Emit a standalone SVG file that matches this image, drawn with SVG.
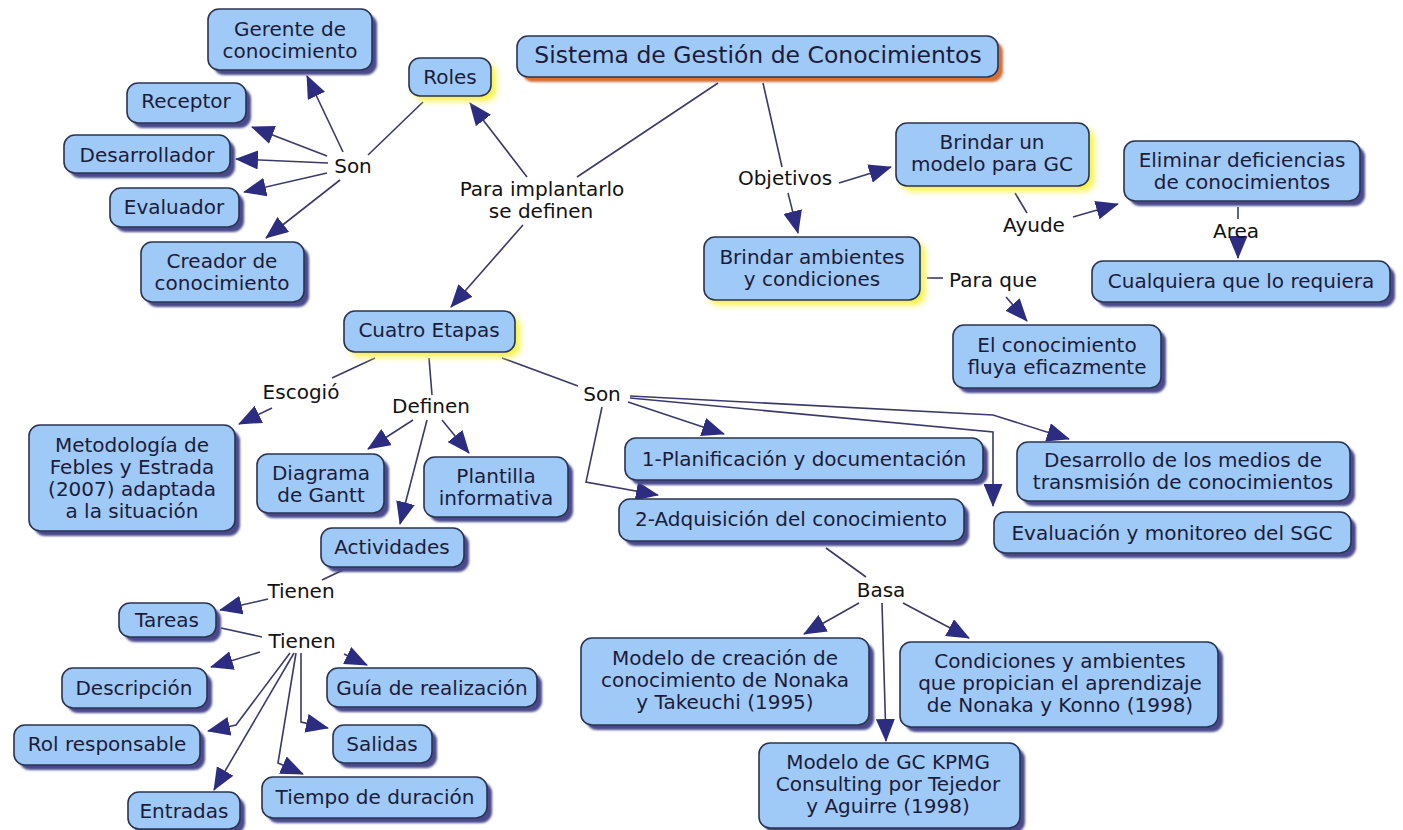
<svg xmlns="http://www.w3.org/2000/svg" width="1403" height="830" viewBox="0 0 1403 830">
  <defs>
    <marker id="arrow" markerUnits="userSpaceOnUse" markerWidth="23" markerHeight="19" refX="22" refY="9.5" orient="auto">
      <path d="M0,0 L23,9.5 L0,19 z" fill="#2c2c80"/>
    </marker>
    <filter id="soft" x="-10%" y="-10%" width="120%" height="130%">
      <feGaussianBlur stdDeviation="0.8"/>
    </filter>
    <filter id="glowBlur" x="-20%" y="-30%" width="140%" height="170%">
      <feGaussianBlur stdDeviation="3"/>
    </filter>
  </defs>
  <style>
    .box { fill: #9fc9f7; stroke: #2a3452; stroke-width: 1.6; }
    .shadow { fill: #48488c; filter: url(#soft); }
    .glow { fill: #f6f23a; filter: url(#glowBlur); }
    .orange { fill: #d2703a; filter: url(#soft); }
    text { font-family: "DejaVu Sans", Verdana, sans-serif; fill: #1c1c3a; text-anchor: middle; }
    .t { font-size: 20px; }
    .title { font-size: 23.5px; }
    .lbl { font-size: 20px; fill: #111; }
    .edge { fill: none; stroke: #3a3a68; stroke-width: 1.6; }
    .arr { marker-end: url(#arrow); }
  </style>
  <rect width="1403" height="830" fill="#ffffff"/>

  <!-- connectors -->
  <g id="connectors">
    <!-- root to phrases -->
    <path class="edge" d="M718,83 L577,177"/>
    <path class="edge arr" d="M527,177 L470,103"/>
    <path class="edge arr" d="M523,225 L451,307"/>
    <path class="edge" d="M763,83 L782,167"/>
    <path class="edge arr" d="M839,183 L891,167"/>
    <path class="edge arr" d="M788,193 L798,233"/>
    <!-- roles -->
    <path class="edge" d="M423,102 L368,155"/>
    <path class="edge arr" d="M343,152 L307,76"/>
    <path class="edge arr" d="M327,156 L252,127"/>
    <path class="edge arr" d="M328,163 L236,159"/>
    <path class="edge arr" d="M327,173 L244,192"/>
    <path class="edge arr" d="M340,180 L266,238"/>
    <!-- objetivos branch -->
    <path class="edge" d="M1015,193 L1027,213"/>
    <path class="edge arr" d="M1073,217 L1118,204"/>
    <path class="edge" d="M1238,207 L1238,219"/>
    <path class="edge arr" d="M1238,241 L1238,258"/>
    <path class="edge" d="M927,278 L943,278"/>
    <path class="edge arr" d="M1006,297 L1027,321"/>
    <!-- cuatro etapas -->
    <path class="edge" d="M375,358 L332,378"/>
    <path class="edge arr" d="M272,408 L239,424"/>
    <path class="edge" d="M429,358 L432,395"/>
    <path class="edge arr" d="M413,420 L368,449"/>
    <path class="edge arr" d="M442,420 L469,453"/>
    <path class="edge arr" d="M427,420 L400,524"/>
    <path class="edge" d="M502,358 L578,386"/>
    <!-- etapas list -->
    <path class="edge arr" d="M628,402 L724,434"/>
    <path class="edge arr" d="M602,407 L586,482 L658,495"/>
    <path class="edge arr" d="M630,398 L993,432 L993,506"/>
    <path class="edge arr" d="M630,396 L993,415 L1069,439"/>
    <!-- actividades -->
    <path class="edge" d="M343,570 L322,580"/>
    <path class="edge arr" d="M268,599 L220,610"/>
    <path class="edge" d="M221,628 L262,637"/>
    <path class="edge arr" d="M260,652 L211,667"/>
    <path class="edge arr" d="M344,654 L367,665"/>
    <path class="edge arr" d="M290,653 L236,725 L208,731"/>
    <path class="edge arr" d="M294,653 L214,790"/>
    <path class="edge arr" d="M296,653 L278,763 L303,774"/>
    <path class="edge arr" d="M301,653 L301,722 L328,728"/>
    <!-- adquisicion -->
    <path class="edge" d="M826,548 L866,577"/>
    <path class="edge arr" d="M859,603 L804,634"/>
    <path class="edge arr" d="M882,603 L886,741"/>
    <path class="edge arr" d="M903,603 L969,638"/>
  </g>

  <!-- linking phrases -->
  <g id="labels">
    <text class="lbl" x="353" y="173">Son</text>
    <text class="lbl" x="542" y="196">Para implantarlo</text>
    <text class="lbl" x="541" y="218">se definen</text>
    <text class="lbl" x="785" y="185">Objetivos</text>
    <text class="lbl" x="1034" y="232">Ayude</text>
    <text class="lbl" x="1236" y="238">Area</text>
    <text class="lbl" x="993" y="287">Para que</text>
    <text class="lbl" x="301" y="399">Escogió</text>
    <text class="lbl" x="431" y="413">Definen</text>
    <text class="lbl" x="602" y="401">Son</text>
    <text class="lbl" x="301" y="598">Tienen</text>
    <text class="lbl" x="302" y="648">Tienen</text>
    <text class="lbl" x="881" y="597">Basa</text>
  </g>

  <!-- concept nodes -->
  <g id="n-title">
    <rect class="orange" x="522" y="41" width="481" height="41" rx="11"/>
    <rect class="box" x="517" y="36" width="481" height="41" rx="11"/>
    <text class="title" x="758" y="63">Sistema de Gestión de Conocimientos</text>
  </g>
  <g id="n-gerente">
    <rect class="shadow" x="213" y="14" width="164" height="61" rx="11"/>
    <rect class="box" x="208" y="9" width="164" height="61" rx="11"/>
    <text class="t" x="290" y="36">Gerente de</text>
    <text class="t" x="290" y="58">conocimiento</text>
  </g>
  <g id="n-receptor">
    <rect class="shadow" x="132" y="88" width="119" height="40" rx="11"/>
    <rect class="box" x="127" y="83" width="119" height="40" rx="11"/>
    <text class="t" x="186" y="108">Receptor</text>
  </g>
  <g id="n-desarrollador">
    <rect class="shadow" x="69" y="140" width="166" height="38" rx="11"/>
    <rect class="box" x="64" y="135" width="166" height="38" rx="11"/>
    <text class="t" x="147" y="162">Desarrollador</text>
  </g>
  <g id="n-evaluador">
    <rect class="shadow" x="115" y="193" width="129" height="39" rx="11"/>
    <rect class="box" x="110" y="188" width="129" height="39" rx="11"/>
    <text class="t" x="174" y="214">Evaluador</text>
  </g>
  <g id="n-creador">
    <rect class="shadow" x="146" y="247" width="163" height="60" rx="11"/>
    <rect class="box" x="141" y="242" width="163" height="60" rx="11"/>
    <text class="t" x="222" y="268">Creador de</text>
    <text class="t" x="222" y="290">conocimiento</text>
  </g>
  <g id="n-roles">
    <rect class="glow" x="414" y="63" width="82" height="38" rx="11"/>
    <rect class="box" x="409" y="58" width="82" height="38" rx="11"/>
    <text class="t" x="450" y="84">Roles</text>
  </g>
  <g id="n-cuatro">
    <rect class="glow" x="349" y="316" width="171" height="41" rx="11"/>
    <rect class="box" x="344" y="311" width="171" height="41" rx="11"/>
    <text class="t" x="429" y="337">Cuatro Etapas</text>
  </g>
  <g id="n-brindar-modelo">
    <rect class="glow" x="901" y="128" width="193" height="63" rx="11"/>
    <rect class="box" x="896" y="123" width="193" height="63" rx="11"/>
    <text class="t" x="992" y="149">Brindar un</text>
    <text class="t" x="992" y="171">modelo para GC</text>
  </g>
  <g id="n-brindar-ambientes">
    <rect class="glow" x="709" y="242" width="216" height="63" rx="11"/>
    <rect class="box" x="704" y="237" width="216" height="63" rx="11"/>
    <text class="t" x="812" y="264">Brindar ambientes</text>
    <text class="t" x="812" y="286">y condiciones</text>
  </g>
  <g id="n-fluya">
    <rect class="shadow" x="958" y="330" width="208" height="63" rx="11"/>
    <rect class="box" x="953" y="325" width="208" height="63" rx="11"/>
    <text class="t" x="1057" y="352">El conocimiento</text>
    <text class="t" x="1057" y="374">fluya eficazmente</text>
  </g>
  <g id="n-eliminar">
    <rect class="shadow" x="1129" y="146" width="236" height="60" rx="11"/>
    <rect class="box" x="1124" y="141" width="236" height="60" rx="11"/>
    <text class="t" x="1242" y="167">Eliminar deficiencias</text>
    <text class="t" x="1242" y="189">de conocimientos</text>
  </g>
  <g id="n-cualquiera">
    <rect class="shadow" x="1097" y="266" width="298" height="41" rx="11"/>
    <rect class="box" x="1092" y="261" width="298" height="41" rx="11"/>
    <text class="t" x="1241" y="288">Cualquiera que lo requiera</text>
  </g>
  <g id="n-metodologia">
    <rect class="shadow" x="34" y="430" width="206" height="106" rx="11"/>
    <rect class="box" x="29" y="425" width="206" height="106" rx="11"/>
    <text class="t" x="132" y="452">Metodología de</text>
    <text class="t" x="132" y="474">Febles y Estrada</text>
    <text class="t" x="132" y="496">(2007) adaptada</text>
    <text class="t" x="132" y="518">a la situación</text>
  </g>
  <g id="n-diagrama">
    <rect class="shadow" x="262" y="459" width="127" height="59" rx="11"/>
    <rect class="box" x="257" y="454" width="127" height="59" rx="11"/>
    <text class="t" x="321" y="480">Diagrama</text>
    <text class="t" x="321" y="502">de Gantt</text>
  </g>
  <g id="n-plantilla">
    <rect class="shadow" x="429" y="462" width="144" height="60" rx="11"/>
    <rect class="box" x="424" y="457" width="144" height="60" rx="11"/>
    <text class="t" x="496" y="483">Plantilla</text>
    <text class="t" x="496" y="505">informativa</text>
  </g>
  <g id="n-actividades">
    <rect class="shadow" x="326" y="533" width="143" height="39" rx="11"/>
    <rect class="box" x="321" y="528" width="143" height="39" rx="11"/>
    <text class="t" x="392" y="554">Actividades</text>
  </g>
  <g id="n-tareas">
    <rect class="shadow" x="124" y="608" width="97" height="34" rx="11"/>
    <rect class="box" x="119" y="603" width="97" height="34" rx="11"/>
    <text class="t" x="167" y="627">Tareas</text>
  </g>
  <g id="n-descripcion">
    <rect class="shadow" x="67" y="673" width="145" height="40" rx="11"/>
    <rect class="box" x="62" y="668" width="145" height="40" rx="11"/>
    <text class="t" x="134" y="695">Descripción</text>
  </g>
  <g id="n-guia">
    <rect class="shadow" x="332" y="673" width="210" height="39" rx="11"/>
    <rect class="box" x="327" y="668" width="210" height="39" rx="11"/>
    <text class="t" x="432" y="695">Guía de realización</text>
  </g>
  <g id="n-rol">
    <rect class="shadow" x="19" y="730" width="186" height="40" rx="11"/>
    <rect class="box" x="14" y="725" width="186" height="40" rx="11"/>
    <text class="t" x="107" y="751">Rol responsable</text>
  </g>
  <g id="n-salidas">
    <rect class="shadow" x="338" y="730" width="99" height="38" rx="11"/>
    <rect class="box" x="333" y="725" width="99" height="38" rx="11"/>
    <text class="t" x="382" y="751">Salidas</text>
  </g>
  <g id="n-entradas">
    <rect class="shadow" x="133" y="797" width="112" height="37" rx="11"/>
    <rect class="box" x="128" y="792" width="112" height="37" rx="11"/>
    <text class="t" x="184" y="818">Entradas</text>
  </g>
  <g id="n-tiempo">
    <rect class="shadow" x="267" y="782" width="225" height="41" rx="11"/>
    <rect class="box" x="262" y="777" width="225" height="41" rx="11"/>
    <text class="t" x="375" y="804">Tiempo de duración</text>
  </g>
  <g id="n-planificacion">
    <rect class="shadow" x="630" y="443" width="358" height="42" rx="11"/>
    <rect class="box" x="625" y="438" width="358" height="42" rx="11"/>
    <text class="t" x="804" y="466">1-Planificación y documentación</text>
  </g>
  <g id="n-adquisicion">
    <rect class="shadow" x="624" y="504" width="345" height="42" rx="11"/>
    <rect class="box" x="619" y="499" width="345" height="42" rx="11"/>
    <text class="t" x="791" y="526">2-Adquisición del conocimiento</text>
  </g>
  <g id="n-desarrollo">
    <rect class="shadow" x="1022" y="447" width="333" height="59" rx="11"/>
    <rect class="box" x="1017" y="442" width="333" height="59" rx="11"/>
    <text class="t" x="1183" y="467">Desarrollo de los medios de</text>
    <text class="t" x="1183" y="489">transmisión de conocimientos</text>
  </g>
  <g id="n-evaluacion">
    <rect class="shadow" x="999" y="517" width="357" height="41" rx="11"/>
    <rect class="box" x="994" y="512" width="357" height="41" rx="11"/>
    <text class="t" x="1172" y="540">Evaluación y monitoreo del SGC</text>
  </g>
  <g id="n-nonaka-takeuchi">
    <rect class="shadow" x="586" y="643" width="288" height="87" rx="11"/>
    <rect class="box" x="581" y="638" width="288" height="87" rx="11"/>
    <text class="t" x="725" y="665">Modelo de creación de</text>
    <text class="t" x="725" y="687">conocimiento de Nonaka</text>
    <text class="t" x="725" y="709">y Takeuchi (1995)</text>
  </g>
  <g id="n-nonaka-konno">
    <rect class="shadow" x="905" y="647" width="318" height="85" rx="11"/>
    <rect class="box" x="900" y="642" width="318" height="85" rx="11"/>
    <text class="t" x="1060" y="668">Condiciones y ambientes</text>
    <text class="t" x="1060" y="690">que propician el aprendizaje</text>
    <text class="t" x="1060" y="712">de Nonaka y Konno (1998)</text>
  </g>
  <g id="n-kpmg">
    <rect class="shadow" x="764" y="748" width="261" height="85" rx="11"/>
    <rect class="box" x="759" y="743" width="261" height="85" rx="11"/>
    <text class="t" x="888" y="769">Modelo de GC KPMG</text>
    <text class="t" x="888" y="791">Consulting por Tejedor</text>
    <text class="t" x="888" y="813">y Aguirre (1998)</text>
  </g>
</svg>
